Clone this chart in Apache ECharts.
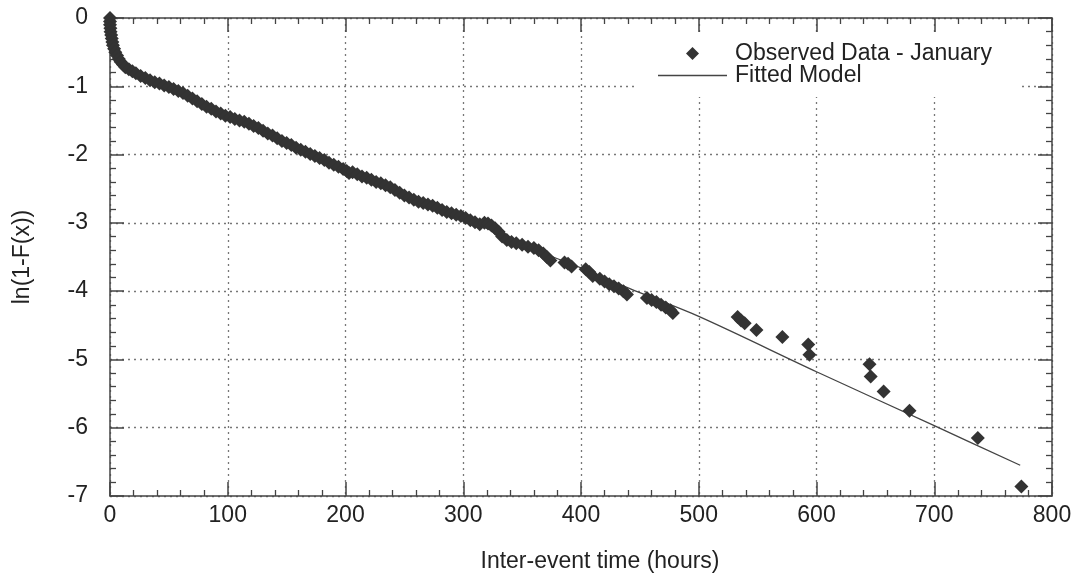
<!DOCTYPE html>
<html>
<head>
<meta charset="utf-8">
<script src="https://cdn.jsdelivr.net/npm/echarts@6/dist/echarts.min.js"></script>
<style>html,body{margin:0;padding:0;background:#fff;}#c{width:1079px;height:580px;}</style>
</head>
<body>
<div id="c"></div>
<script>
// Observed data (hours, ln(1-F(x)))
var obsX = [0,0,0,0.3,0.5,1,1.5,2,2.5,3.5,4.5,6,7.5,9,11,13,16,19,22,26,30,34,38,42,46,50,54,58,62,66,70,74,78,82,86,90,94,98,102,106,110,114,118,122,126,130,134,138,142,146,150,154,158,162,166,170,174,178,182,186,190,194,198,201,203,206,210,214,218,222,226,230,234,238,242,246,250,254,258,262,266,270,274,278,282,286,290,294,298,302,306,310,314,318,321,324,327,330,333,337,341,345,350,355,360,364,368,371,374,386,389,392,404,407,410,416,420,424,428,432,436,439,456,460,464,468,472,476,478,533,536,539,549,571,593,594,645,646,657,679,737,774];
var obsY = [0,-0.05,-0.1,-0.15,-0.2,-0.25,-0.3,-0.35,-0.4,-0.45,-0.5,-0.55,-0.6,-0.64,-0.68,-0.72,-0.75,-0.78,-0.81,-0.85,-0.88,-0.91,-0.94,-0.96,-0.99,-1.01,-1.04,-1.07,-1.1,-1.14,-1.18,-1.22,-1.26,-1.3,-1.33,-1.37,-1.4,-1.43,-1.45,-1.48,-1.5,-1.52,-1.55,-1.58,-1.61,-1.65,-1.69,-1.72,-1.76,-1.8,-1.83,-1.86,-1.9,-1.93,-1.96,-1.99,-2.02,-2.05,-2.08,-2.12,-2.15,-2.18,-2.21,-2.24,-2.27,-2.26,-2.29,-2.32,-2.34,-2.37,-2.4,-2.42,-2.45,-2.48,-2.52,-2.56,-2.6,-2.63,-2.66,-2.69,-2.71,-2.73,-2.75,-2.78,-2.81,-2.84,-2.86,-2.88,-2.9,-2.93,-2.96,-2.99,-3.02,-3.0,-3.01,-3.04,-3.08,-3.13,-3.2,-3.25,-3.28,-3.3,-3.32,-3.35,-3.37,-3.4,-3.45,-3.5,-3.55,-3.58,-3.6,-3.64,-3.68,-3.72,-3.78,-3.82,-3.86,-3.9,-3.93,-3.96,-4.0,-4.05,-4.1,-4.13,-4.16,-4.2,-4.24,-4.28,-4.32,-4.38,-4.43,-4.47,-4.57,-4.67,-4.78,-4.93,-5.07,-5.25,-5.47,-5.75,-6.15,-6.86];
// Fitted model curve
var fitX = [0,2,10,25,50,100,150,200,250,300,350,400,441,500,600,700,773];
var fitY = [0,-0.35,-0.65,-0.83,-1.01,-1.44,-1.83,-2.21,-2.6,-2.92,-3.32,-3.66,-3.96,-4.37,-5.18,-5.97,-6.55];
var xTicks = [0,100,200,300,400,500,600,700,800];
var yTicks = [-7,-6,-5,-4,-3,-2,-1,0];

var obsName = 'Observed Data - January';
var fitName = 'Fitted Model';
var FONT = '"Liberation Sans", Arial, sans-serif';
var TXT = '#222';

var obsData = obsX.map(function(x,i){return [x, obsY[i]];});
var fitData = fitX.map(function(x,i){return [x, fitY[i]];});

var chart = echarts.init(document.getElementById('c'), null, {renderer:'canvas'});
var axisLine = {show:true, onZero:false, lineStyle:{color:'#444', width:1.5}};
var grid = {show:true, lineStyle:{color:'#777', width:1.3, type:[2,4]}};
function tick(){ return {show:true, inside:true, length:14, lineStyle:{color:'#444', width:1.5}}; }
function minor(){ return {show:true, splitNumber:5, length:6, lineStyle:{color:'#444', width:1.3}}; }
chart.setOption({
  animation:false,
  backgroundColor:'#fff',
  grid:{left:110, right:27, top:18, bottom:84, containLabel:false},
  legend:[
    {data:[obsName], left:638, top:33, orient:'vertical', padding:[9,28,32,48],
     backgroundColor:'#fff', itemWidth:13, itemHeight:13, itemGap:0,
     textStyle:{fontFamily:FONT, fontSize:23, color:TXT, padding:[0,0,0,31]}},
    {data:[{name:fitName, icon:'rect'}], left:658, top:64, orient:'vertical', padding:0,
     itemWidth:69, itemHeight:1.4, itemGap:0,
     textStyle:{fontFamily:FONT, fontSize:23, color:TXT, padding:[0,0,0,3]}}
  ],
  xAxis:[
    {type:'value', min:xTicks[0], max:xTicks[xTicks.length-1], interval:100, position:'bottom',
     name:'Inter-event time (hours)', nameLocation:'middle', nameGap:54,
     nameTextStyle:{fontFamily:FONT, fontSize:23, color:TXT, padding:[0,0,0,38]},
     axisLine:axisLine, axisTick:tick(), minorTick:minor(),
     axisLabel:{fontFamily:FONT, fontSize:23, color:TXT, margin:8},
     splitLine:grid},
    {type:'value', min:0, max:800, interval:100, position:'top',
     axisLine:axisLine, axisTick:tick(), minorTick:minor(),
     axisLabel:{show:false}, splitLine:{show:false}}
  ],
  yAxis:[
    {type:'value', min:yTicks[0], max:yTicks[yTicks.length-1], interval:1, position:'left',
     name:'ln(1-F(x))', nameLocation:'middle', nameGap:76,
     nameTextStyle:{fontFamily:FONT, fontSize:23, color:TXT},
     axisLine:axisLine, axisTick:tick(), minorTick:minor(),
     axisLabel:{fontFamily:FONT, fontSize:23, color:TXT, margin:22},
     splitLine:grid},
    {type:'value', min:-7, max:0, interval:1, position:'right',
     axisLine:axisLine, axisTick:tick(), minorTick:minor(),
     axisLabel:{show:false}, splitLine:{show:false}}
  ],
  series:[
    {name:fitName, type:'line', data:fitData, xAxisIndex:0, yAxisIndex:0, smooth:0.3,
     showSymbol:false, symbol:'none', lineStyle:{color:'#444', width:1.3}, itemStyle:{color:'#444'}, z:2},
    {name:obsName, type:'scatter', data:obsData, xAxisIndex:0, yAxisIndex:0,
     symbol:'diamond', symbolSize:14, itemStyle:{color:'#333', opacity:1}, z:3}
  ]
});
</script>
</body>
</html>
